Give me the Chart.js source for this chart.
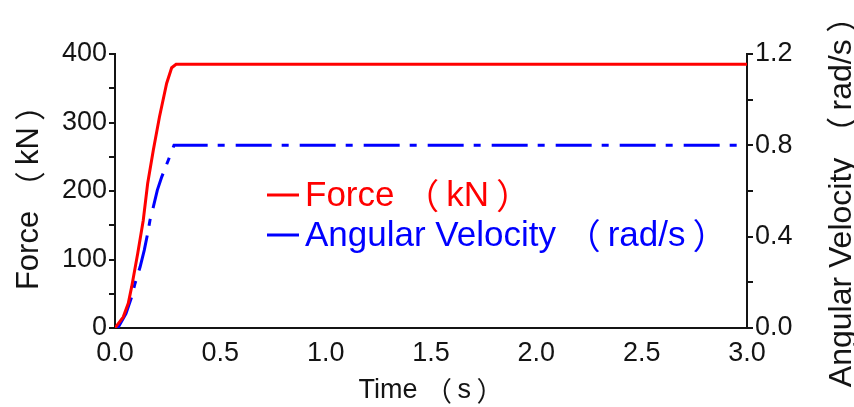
<!DOCTYPE html>
<html>
<head>
<meta charset="utf-8">
<style>
  html, body { margin: 0; padding: 0; background: #fff; }
  #wrap { width: 854px; height: 407px; position: relative; }
</style>
<script src="https://cdn.jsdelivr.net/npm/chart.js@4/dist/chart.umd.min.js"></script>
</head>
<body>
<div id="wrap"><canvas id="c" width="854" height="407"></canvas></div>
<script>
// ---- Data ----
const forceTime   = [0, 0.005, 0.039, 0.063, 0.079, 0.108, 0.134, 0.155, 0.182, 0.211, 0.245, 0.269, 0.29, 3.0];
const forceValues = [0, 2, 16, 36, 60, 109, 157, 211, 260, 308, 357, 380, 385, 385];

const velTime   = [0, 0.016, 0.052, 0.079, 0.095, 0.119, 0.139, 0.155, 0.166, 0.182, 0.201, 0.222, 0.253, 0.28, 3.0];
const velValues = [0, 0.004, 0.063, 0.136, 0.195, 0.267, 0.341, 0.414, 0.472, 0.530, 0.604, 0.662, 0.735, 0.80, 0.80];

const seriesLabels = ['Force （kN）', 'Angular Velocity （rad/s）'];
const axisTitles = { x: 'Time （s）', yLeft: 'Force （kN）', yRight: 'Angular Velocity （rad/s）' };

const xTicks = [0, 0.5, 1.0, 1.5, 2.0, 2.5, 3.0];
const leftTickLabels = [0, 100, 200, 300, 400];
const rightTickLabels = [0.0, 0.4, 0.8, 1.2];

const FONT = "'Liberation Sans', Arial, 'Noto Sans CJK SC', sans-serif";
const CJK = "'Noto Sans CJK SC', 'Liberation Sans', sans-serif";
const INK = '#141414';

function pts(xs, ys) { return xs.map((x, i) => ({ x: x, y: ys[i] })); }

// Draw text with fullwidth brackets given a little inner breathing room
function richRuns(ctx, text, size) {
  const runs = [];
  let buf = '';
  const flush = () => { if (buf) { runs.push({ t: buf, f: FONT, pre: 0, post: 0 }); buf = ''; } };
  for (const ch of text) {
    if (ch === '（') { flush(); runs.push({ t: ch, f: CJK, pre: 0, post: 0.2 * size }); }
    else if (ch === '）') { flush(); runs.push({ t: ch, f: CJK, pre: 0.2 * size, post: 0 }); }
    else buf += ch;
  }
  flush();
  let w = 0;
  runs.forEach(r => { ctx.font = size + 'px ' + r.f; r.w = ctx.measureText(r.t).width; w += r.pre + r.w + r.post; });
  return { runs, w };
}
function drawRich(ctx, text, x, y, size, align) {
  const { runs, w } = richRuns(ctx, text, size);
  let cx = align === 'center' ? x - w / 2 : x;
  ctx.textAlign = 'left';
  ctx.textBaseline = 'middle';
  runs.forEach(r => {
    cx += r.pre;
    ctx.font = size + 'px ' + r.f;
    ctx.fillText(r.t, cx, y);
    cx += r.w + r.post;
  });
}

// Custom legend drawn inside the plot
const innerLegend = {
  id: 'innerLegend',
  afterDatasetsDraw(chart) {
    const ctx = chart.ctx;
    const rows = [
      { ds: chart.data.datasets[0], x: 267, y: 195 },
      { ds: chart.data.datasets[1], x: 267, y: 235 }
    ];
    ctx.save();
    rows.forEach(r => {
      ctx.strokeStyle = r.ds.borderColor;
      ctx.lineWidth = 3;
      ctx.setLineDash([]);
      ctx.beginPath();
      ctx.moveTo(r.x, r.y);
      ctx.lineTo(r.x + 32, r.y);
      ctx.stroke();
      ctx.fillStyle = r.ds.borderColor;
      drawRich(ctx, r.ds.label, r.x + 38, r.y + 1, 35, 'left');
    });
    ctx.restore();
  }
};

// Axis titles (right one reads bottom-to-top like the reference)
const axisTitlePlugin = {
  id: 'axisTitlePlugin',
  afterDraw(chart) {
    const ctx = chart.ctx;
    ctx.save();
    ctx.fillStyle = INK;
    // left
    ctx.save();
    ctx.translate(29, 190);
    ctx.rotate(-Math.PI / 2);
    drawRich(ctx, axisTitles.yLeft, 0, 0, 31, 'center');
    ctx.restore();
    // right
    ctx.save();
    ctx.translate(842, 194);
    ctx.rotate(-Math.PI / 2);
    drawRich(ctx, axisTitles.yRight, 0, 0, 32, 'center');
    ctx.restore();
    // bottom
    drawRich(ctx, axisTitles.x, 431, 391, 27, 'center');
    ctx.restore();
  }
};

new Chart(document.getElementById('c'), {
  type: 'line',
  data: {
    datasets: [
      {
        label: seriesLabels[0],
        data: pts(forceTime, forceValues),
        borderColor: '#ff0000',
        backgroundColor: '#ff0000',
        borderWidth: 3,
        pointRadius: 0,
        tension: 0,
        yAxisID: 'yL'
      },
      {
        label: seriesLabels[1],
        data: pts(velTime, velValues),
        borderColor: '#0000ff',
        backgroundColor: '#0000ff',
        borderWidth: 3,
        borderDash: [36, 10, 7, 11],
        pointRadius: 0,
        tension: 0,
        yAxisID: 'yR'
      }
    ]
  },
  options: {
    responsive: false,
    animation: false,
    devicePixelRatio: 1,
    layout: { padding: { top: 54, left: 0, right: 0, bottom: 0 } },
    plugins: { legend: { display: false }, tooltip: { enabled: false }, title: { display: false } },
    scales: {
      x: {
        type: 'linear',
        min: 0, max: 3,
        afterFit(s) { s.height = 79; },
        afterBuildTicks(s) { s.ticks = xTicks.map(v => ({ value: v })); },
        grid: { display: false },
        border: { display: true, color: INK, width: 2 },
        ticks: {
          color: INK,
          font: { family: FONT, size: 27 },
          padding: 1,
          maxRotation: 0,
          autoSkip: false,
          callback: v => Number(v).toFixed(1)
        },
        title: { display: false, text: axisTitles.x }
      },
      yL: {
        type: 'linear',
        position: 'left',
        min: 0, max: 400,
        afterFit(s) { s.width = 115; },
        grid: { display: true, drawOnChartArea: false, drawTicks: true, tickLength: 6, color: INK, lineWidth: 2 },
        border: { display: true, color: INK, width: 2 },
        ticks: {
          stepSize: 50,
          autoSkip: false,
          color: INK,
          padding: 2,
          font: { family: FONT, size: 27 },
          callback: v => leftTickLabels.includes(Math.round(v)) ? String(Math.round(v)) : ''
        },
        title: { display: false, text: axisTitles.yLeft }
      },
      yR: {
        type: 'linear',
        position: 'right',
        min: 0, max: 1.2,
        afterFit(s) { s.width = 107; },
        grid: { display: true, drawOnChartArea: false, drawTicks: true, tickLength: 6, color: INK, lineWidth: 2 },
        border: { display: true, color: INK, width: 2 },
        ticks: {
          stepSize: 0.2,
          autoSkip: false,
          color: INK,
          padding: 2,
          font: { family: FONT, size: 27 },
          callback: v => {
            const r = Math.round(v * 10) / 10;
            return rightTickLabels.some(t => Math.abs(t - r) < 1e-6) ? r.toFixed(1) : '';
          }
        },
        title: { display: false, text: axisTitles.yRight }
      }
    }
  },
  plugins: [innerLegend, axisTitlePlugin]
});
</script>
</body>
</html>
